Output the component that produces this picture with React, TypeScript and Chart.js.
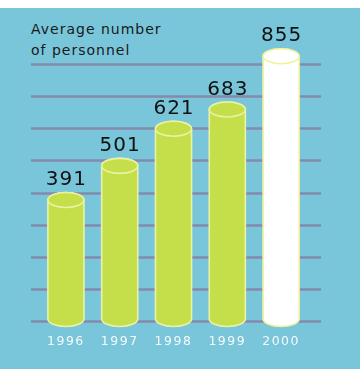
import React, { useEffect, useRef } from "react";
import { Chart, registerables } from "chart.js";

Chart.register(...registerables);

const categories = ["1996", "1997", "1998", "1999", "2000"];
const personnel = [391, 501, 621, 683, 855];
const yMax = 830;
const gridStep = 103.75;
const title = ["Average number", "of personnel"];

const BG = "#79C6DA";
const LIME = "#C4DF4A";
const LIME_EDGE = "#EBF1A6";
const WHITE_EDGE = "#F2F2A2";
const GRID = "#8589AA";

function cylinderPath(ctx: CanvasRenderingContext2D, x: number, top: number, base: number, rx: number, ry: number) {
  ctx.beginPath();
  ctx.moveTo(x - rx, top);
  ctx.lineTo(x - rx, base);
  ctx.ellipse(x, base, rx, ry, 0, Math.PI, 0, true);
  ctx.lineTo(x + rx, top);
  ctx.ellipse(x, top, rx, ry, 0, 0, Math.PI, true);
  ctx.closePath();
}

const cylinderPlugin = {
  id: "cylinders",
  beforeDatasetsDraw(chart: any) {
    const ctx: CanvasRenderingContext2D = chart.ctx;
    const ys = chart.scales.y;
    const area = chart.chartArea;
    ctx.save();
    ctx.strokeStyle = GRID;
    ctx.lineWidth = 2.5;
    for (const t of ys.ticks) {
      const y = Math.round(ys.getPixelForValue(t.value)) + 0.5;
      ctx.beginPath();
      ctx.moveTo(area.left - 8, y);
      ctx.lineTo(area.right + 13, y);
      ctx.stroke();
    }
    ctx.restore();
  },
  afterDatasetsDraw(chart: any) {
    const ctx: CanvasRenderingContext2D = chart.ctx;
    const meta = chart.getDatasetMeta(0);
    const data = chart.data.datasets[0].data as number[];
    meta.data.forEach((bar: any, i: number) => {
      const { x, y, base, width } = bar.getProps(["x", "y", "base", "width"], true);
      const rx = width / 2;
      const ry = 7.5;
      const last = i === data.length - 1;
      const fill = last ? "#FFFFFF" : LIME;
      const edge = last ? WHITE_EDGE : LIME_EDGE;
      ctx.save();
      ctx.fillStyle = fill;
      ctx.strokeStyle = edge;
      ctx.lineWidth = 1.6;
      cylinderPath(ctx, x, y, base - 2, rx, ry);
      ctx.fill();
      ctx.stroke();
      ctx.beginPath();
      ctx.ellipse(x, y, rx, ry, 0, 0, Math.PI * 2);
      ctx.fill();
      ctx.stroke();
      // value label
      ctx.fillStyle = "#111111";
      ctx.font = "20px 'DejaVu Sans'";
      (ctx as any).letterSpacing = "1px";
      ctx.textAlign = "center";
      ctx.textBaseline = "alphabetic";
      ctx.fillText(String(data[i]), x + 0.5, y - 15);
      ctx.restore();
    });
  },
};

const spacingPlugin = {
  id: "spacing",
  beforeDraw(chart: any) {
    (chart.ctx as any).letterSpacing = "1.5px";
  },
  afterDraw(chart: any) {
    (chart.ctx as any).letterSpacing = "0px";
  },
};

export default function App() {
  const ref = useRef<HTMLCanvasElement>(null);
  useEffect(() => {
    if (!ref.current) return;
    const chart = new Chart(ref.current, {
      type: "bar",
      data: {
        labels: categories,
        datasets: [
          {
            data: personnel,
            backgroundColor: "rgba(0,0,0,0)",
            borderWidth: 0,
            categoryPercentage: 1,
            barPercentage: 0.67,
          },
        ],
      },
      options: {
        animation: false,
        responsive: true,
        maintainAspectRatio: false,
        layout: { padding: { left: 39, right: 52, top: 56, bottom: 7 } },
        plugins: { legend: { display: false }, tooltip: { enabled: false }, title: { display: false } },
        scales: {
          x: {
            grid: { display: false, drawTicks: false },
            border: { display: false },
            ticks: {
              color: "#F4FAFC",
              padding: 13,
              font: { family: "'DejaVu Sans'", size: 12.5 },
            },
          },
          y: {
            min: 0,
            max: yMax,
            grid: { display: false, drawTicks: false },
            border: { display: false },
            ticks: { display: false, stepSize: gridStep },
          },
        },
      },
      plugins: [spacingPlugin, cylinderPlugin],
    });
    return () => chart.destroy();
  }, []);
  return (
    <div
      style={{
        position: "fixed",
        left: 0,
        top: 8,
        width: 360,
        height: 361,
        background: BG,
      }}
    >
      <div
        style={{
          position: "absolute",
          left: 31,
          top: 10.6,
          fontFamily: "'DejaVu Sans'",
          fontSize: 14,
          lineHeight: "21px",
          letterSpacing: "1px",
          color: "#1A1A1A",
          whiteSpace: "nowrap",
        }}
      >
        {title.map((t) => (
          <div key={t}>{t}</div>
        ))}
      </div>
      <canvas ref={ref} style={{ position: "absolute", left: 0, top: 0, width: 360, height: 361 }} />
    </div>
  );
}
